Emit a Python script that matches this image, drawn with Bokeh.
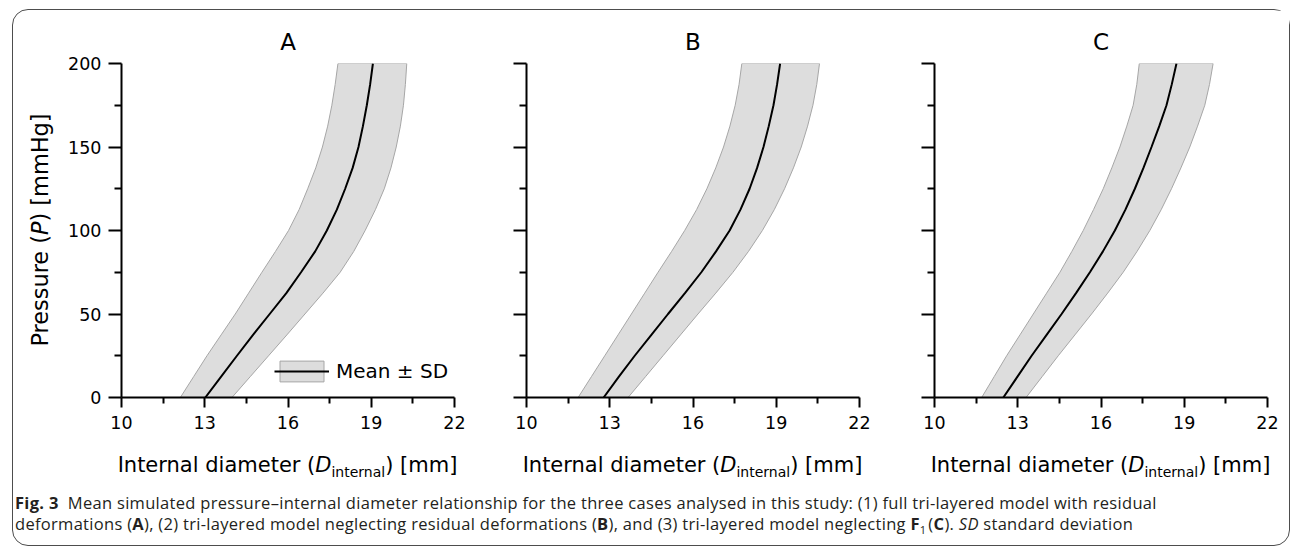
from bokeh.plotting import figure
from bokeh.models import Range1d, FixedTicker, Legend, LegendItem, Div, CustomJSTickFormatter
from bokeh.layouts import row, column
from bokeh.embed import file_html
from bokeh.resources import INLINE

# ---------------- data ----------------
pressure = [0, 12.5, 25, 37.5, 50, 62.5, 75, 87.5, 100, 112.5, 125, 137.5, 150, 162.5, 175, 187.5, 200]

mean_A = [13.02, 13.59, 14.16, 14.74, 15.34, 15.94, 16.47, 16.98, 17.40, 17.76, 18.06, 18.33, 18.54, 18.70, 18.84, 18.96, 19.06]
lower_A = [12.12, 12.60, 13.08, 13.59, 14.10, 14.58, 15.06, 15.55, 16.02, 16.40, 16.71, 17.00, 17.24, 17.43, 17.58, 17.70, 17.80]
upper_A = [13.98, 14.64, 15.30, 15.96, 16.61, 17.26, 17.88, 18.37, 18.78, 19.15, 19.47, 19.71, 19.90, 20.05, 20.16, 20.23, 20.28]

mean_B = [12.78, 13.33, 13.90, 14.50, 15.10, 15.71, 16.30, 16.83, 17.32, 17.71, 18.04, 18.31, 18.54, 18.73, 18.90, 19.03, 19.14]
lower_B = [11.86, 12.34, 12.82, 13.30, 13.78, 14.26, 14.74, 15.23, 15.70, 16.13, 16.50, 16.82, 17.10, 17.33, 17.52, 17.66, 17.76]
upper_B = [13.66, 14.29, 14.92, 15.55, 16.18, 16.82, 17.44, 18.00, 18.50, 18.93, 19.30, 19.62, 19.90, 20.13, 20.32, 20.46, 20.56]

mean_C = [12.48, 12.99, 13.50, 14.04, 14.58, 15.10, 15.60, 16.07, 16.50, 16.88, 17.22, 17.53, 17.82, 18.10, 18.36, 18.55, 18.72]
lower_C = [11.70, 12.15, 12.60, 13.08, 13.56, 14.04, 14.52, 14.95, 15.36, 15.73, 16.08, 16.39, 16.68, 16.93, 17.16, 17.29, 17.38]
upper_C = [13.30, 13.88, 14.46, 15.06, 15.66, 16.24, 16.80, 17.30, 17.76, 18.17, 18.54, 18.88, 19.20, 19.48, 19.74, 19.91, 20.04]

panel_titles = ["A", "B", "C"]
x_ticks = [10, 13, 16, 19, 22]
x_minor = [11.5, 14.5, 17.5, 20.5]
y_ticks = [0, 50, 100, 150, 200]
y_minor = [25, 75, 125, 175]
legend_label = "Mean ± SD"

FONT = "DejaVu Sans"


def make_panel(title, mean, lower, upper, first, mbl, mbr):
    p = figure(frame_width=333, frame_height=334, x_range=Range1d(10, 22), y_range=Range1d(0, 200),
               output_backend="svg", toolbar_location=None,
               min_border_left=mbl, min_border_right=mbr, min_border_top=53, min_border_bottom=49)
    p.outline_line_color = None
    p.grid.visible = False
    p.background_fill_color = "white"
    p.border_fill_color = "white"

    p.title.text = title
    p.title.align = "center"
    p.title.text_font = FONT
    p.title.text_font_size = "23px"
    p.title.text_font_style = "normal"
    p.title.text_color = "black"
    p.title.standoff = 17

    for ax in (p.xaxis[0], p.yaxis[0]):
        ax.axis_line_width = 2
        ax.axis_line_color = "black"
        ax.major_tick_line_width = 2
        ax.minor_tick_line_width = 2
        ax.major_tick_line_color = "black"
        ax.minor_tick_line_color = "black"
        ax.major_tick_in = 0
        ax.minor_tick_in = 0
        ax.major_label_text_font = FONT
        ax.major_label_text_font_size = "17.5px"
        ax.major_label_text_color = "black"
    p.xaxis.ticker = FixedTicker(ticks=x_ticks, minor_ticks=x_minor)
    p.yaxis.ticker = FixedTicker(ticks=y_ticks, minor_ticks=y_minor)
    p.xaxis.major_tick_out = 10
    p.xaxis.minor_tick_out = 6
    p.yaxis.major_tick_out = 13
    p.yaxis.minor_tick_out = 7
    p.xaxis.major_label_standoff = 8
    p.yaxis.major_label_standoff = 7
    if not first:
        p.yaxis.formatter = CustomJSTickFormatter(code="return ''")

    xs = list(lower) + list(reversed(upper))
    ys = list(pressure) + list(reversed(pressure))
    band = p.patch(xs, ys, fill_color="#dddddd", line_color="#a6a6a6", line_width=1)
    ml = p.line(mean, pressure, line_color="black", line_width=2)

    if first:
        leg = Legend(items=[LegendItem(label=legend_label, renderers=[band, ml])],
                     location=(153, 13), padding=0, margin=0, spacing=0,
                     border_line_color=None, background_fill_alpha=0,
                     glyph_width=55, glyph_height=26, label_height=26, label_standoff=7,
                     label_text_font=FONT, label_text_font_size="20px", label_text_color="black")
        p.add_layout(leg)
    return p


pA = make_panel(panel_titles[0], mean_A, lower_A, upper_A, True, 58, 36)
pB = make_panel(panel_titles[1], mean_B, lower_B, upper_B, False, 36, 38)
pC = make_panel(panel_titles[2], mean_C, lower_C, upper_C, False, 37, 22)

ylab_html = (
    '<div style="position:relative;width:50px;height:436px;">'
    '<span style="position:absolute;left:26.5px;top:220px;transform:translate(-50%,-50%) rotate(-90deg);'
    'white-space:nowrap;font-family:\'DejaVu Sans\';font-size:22.4px;line-height:22.4px;color:#000;">'
    'Pressure (<i>P</i>) [mmHg]</span></div>'
)
ydiv = Div(text=ylab_html, width=50, height=436, margin=0)

xtitle = ('Internal diameter (<i>D</i><sub style="font-size:14px;line-height:0;vertical-align:-5px;">'
          'internal</sub>) [mm]')
centers = [274.5, 679.5, 1087.5]
spans = "".join(
    f'<span style="position:absolute;left:{c}px;top:7px;transform:translateX(-50%);white-space:nowrap;'
    f'font-family:\'DejaVu Sans\';font-size:21px;line-height:25px;color:#000;">{xtitle}</span>'
    for c in centers)

caption = (
    '<div style="position:absolute;left:2px;top:46px;white-space:nowrap;font-family:\'Open Sans\';'
    'font-size:16.5px;line-height:21px;letter-spacing:0.3px;color:#231f20;">'
    '<b>Fig. 3</b>&nbsp; Mean simulated pressure–internal diameter relationship for the three cases '
    'analysed in this study: (1) full tri-layered model with residual<br>'
    'deformations (<b>A</b>), (2) tri-layered model neglecting residual deformations (<b>B</b>), and (3) '
    'tri-layered model neglecting <b>F</b><sub style="font-size:11px;line-height:0;">1</sub>&#8202;(<b>C</b>). '
    '<i>SD</i> standard deviation</div>'
)
bottom_html = f'<div style="position:relative;width:1276px;height:99px;">{spans}{caption}</div>'
bdiv = Div(text=bottom_html, width=1276, height=99, margin=0)

layout = column(row(ydiv, pA, pB, pC, spacing=0), bdiv, spacing=0, margin=(9, 0, 0, 12),
                styles={"border": "1px solid #4d4d4d", "border-radius": "16px", "background": "white"})

open("out.html", "w").write(file_html(layout, INLINE, title="Fig. 3"))
